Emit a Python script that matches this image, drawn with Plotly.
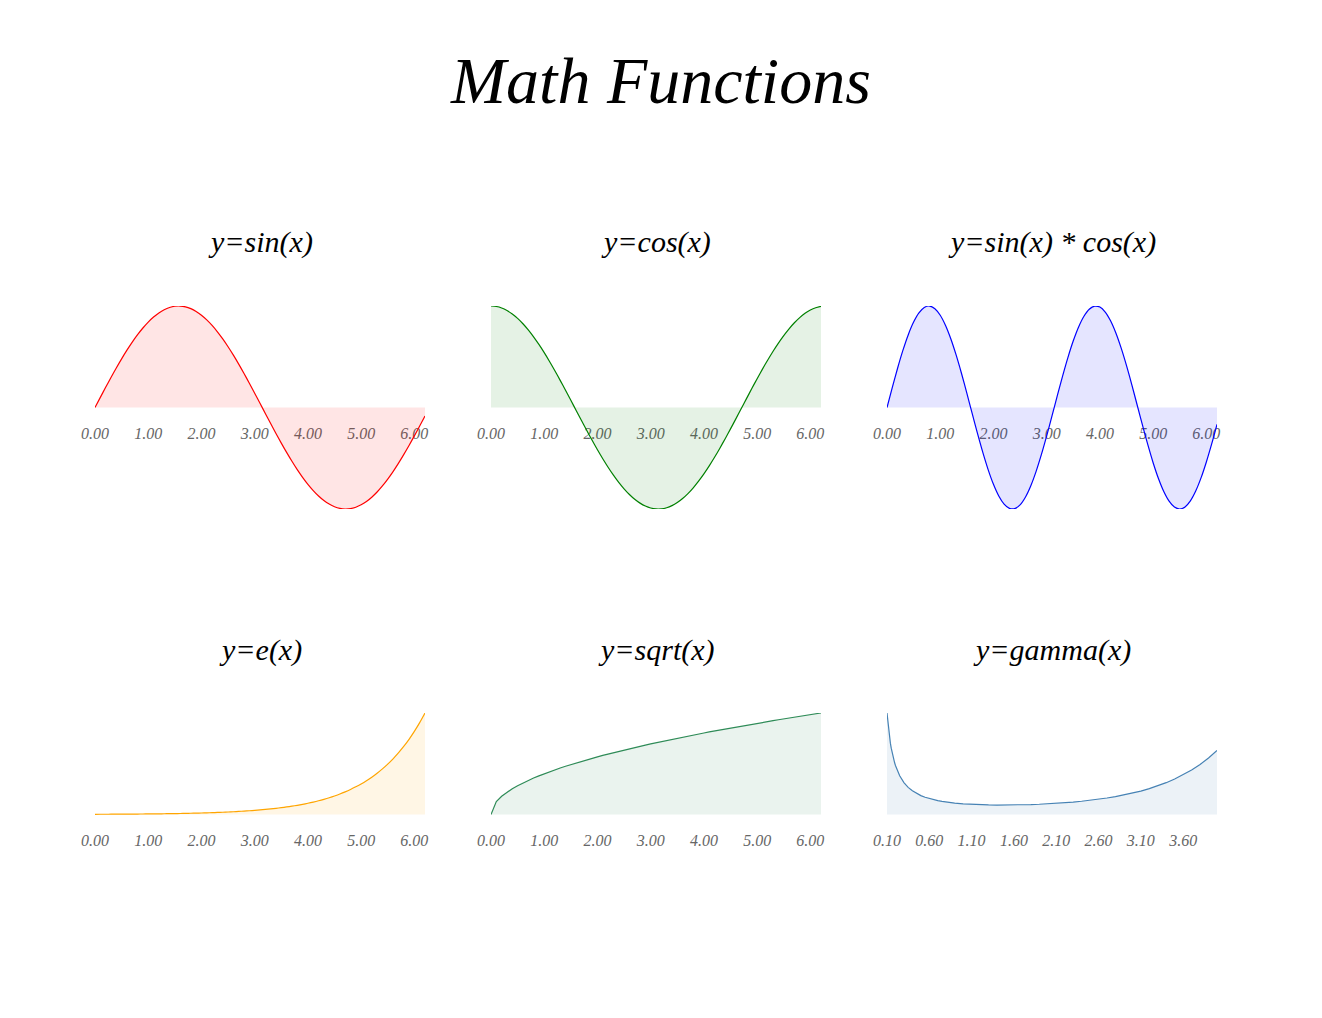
import plotly.graph_objects as go

# ---------------- data ----------------
x_main = [0.0, 0.1, 0.2, 0.3, 0.4, 0.5, 0.6, 0.7, 0.8, 0.9,
          1.0, 1.1, 1.2, 1.3, 1.4, 1.5, 1.6, 1.7, 1.8, 1.9,
          2.0, 2.1, 2.2, 2.3, 2.4, 2.5, 2.6, 2.7, 2.8, 2.9,
          3.0, 3.1, 3.2, 3.3, 3.4, 3.5, 3.6, 3.7, 3.8, 3.9,
          4.0, 4.1, 4.2, 4.3, 4.4, 4.5, 4.6, 4.7, 4.8, 4.9,
          5.0, 5.1, 5.2, 5.3, 5.4, 5.5, 5.6, 5.7, 5.8, 5.9,
          6.0, 6.1, 6.2]

y_sin = [0.0, 0.0998, 0.1987, 0.2955, 0.3894, 0.4794, 0.5646, 0.6442, 0.7174, 0.7833,
         0.8415, 0.8912, 0.9320, 0.9636, 0.9854, 0.9975, 0.9996, 0.9917, 0.9738, 0.9463,
         0.9093, 0.8632, 0.8085, 0.7457, 0.6755, 0.5985, 0.5155, 0.4274, 0.3350, 0.2392,
         0.1411, 0.0416, -0.0584, -0.1577, -0.2555, -0.3508, -0.4425, -0.5298, -0.6119, -0.6878,
         -0.7568, -0.8183, -0.8716, -0.9162, -0.9516, -0.9775, -0.9937, -0.9999, -0.9962, -0.9825,
         -0.9589, -0.9258, -0.8835, -0.8323, -0.7728, -0.7055, -0.6313, -0.5507, -0.4646, -0.3739,
         -0.2794, -0.1822, -0.0831]

y_cos = [1.0, 0.9950, 0.9801, 0.9553, 0.9211, 0.8776, 0.8253, 0.7648, 0.6967, 0.6216,
         0.5403, 0.4536, 0.3624, 0.2675, 0.1700, 0.0707, -0.0292, -0.1288, -0.2272, -0.3233,
         -0.4161, -0.5048, -0.5885, -0.6663, -0.7374, -0.8011, -0.8569, -0.9041, -0.9422, -0.9710,
         -0.9900, -0.9991, -0.9983, -0.9875, -0.9668, -0.9365, -0.8968, -0.8481, -0.7910, -0.7259,
         -0.6536, -0.5748, -0.4903, -0.4008, -0.3073, -0.2108, -0.1122, -0.0124, 0.0875, 0.1865,
         0.2837, 0.3780, 0.4685, 0.5544, 0.6347, 0.7087, 0.7756, 0.8347, 0.8855, 0.9275,
         0.9602, 0.9833, 0.9965]

y_sincos = [0.0, 0.0993, 0.1947, 0.2823, 0.3587, 0.4207, 0.4660, 0.4927, 0.4998, 0.4869,
            0.4546, 0.4043, 0.3377, 0.2578, 0.1675, 0.0706, -0.0292, -0.1278, -0.2213, -0.3059,
            -0.3784, -0.4358, -0.4758, -0.4968, -0.4981, -0.4795, -0.4418, -0.3864, -0.3157, -0.2323,
            -0.1397, -0.0416, 0.0583, 0.1557, 0.2470, 0.3285, 0.3968, 0.4493, 0.4840, 0.4993,
            0.4947, 0.4704, 0.4273, 0.3672, 0.2924, 0.2061, 0.1115, 0.0124, -0.0872, -0.1832,
            -0.2720, -0.3500, -0.4139, -0.4614, -0.4905, -0.5000, -0.4896, -0.4597, -0.4114, -0.3468,
            -0.2683, -0.1792, -0.0828]

y_exp = [1.0, 1.1052, 1.2214, 1.3499, 1.4918, 1.6487, 1.8221, 2.0138, 2.2255, 2.4596,
         2.7183, 3.0042, 3.3201, 3.6693, 4.0552, 4.4817, 4.9530, 5.4739, 6.0496, 6.6859,
         7.3891, 8.1662, 9.0250, 9.9742, 11.0232, 12.1825, 13.4637, 14.8797, 16.4446, 18.1741,
         20.0855, 22.1980, 24.5325, 27.1126, 29.9641, 33.1155, 36.5982, 40.4473, 44.7012, 49.4024,
         54.5982, 60.3403, 66.6863, 73.6998, 81.4509, 90.0171, 99.4843, 109.9472, 121.5104, 134.2898,
         148.4132, 164.0219, 181.2722, 200.3368, 221.4064, 244.6919, 270.4264, 298.8674, 330.2996, 365.0375,
         403.4288, 445.8578, 492.7490]

y_sqrt = [0.0, 0.3162, 0.4472, 0.5477, 0.6325, 0.7071, 0.7746, 0.8367, 0.8944, 0.9487,
          1.0, 1.0488, 1.0954, 1.1402, 1.1832, 1.2247, 1.2649, 1.3038, 1.3416, 1.3784,
          1.4142, 1.4491, 1.4832, 1.5166, 1.5492, 1.5811, 1.6125, 1.6432, 1.6733, 1.7029,
          1.7321, 1.7607, 1.7889, 1.8166, 1.8439, 1.8708, 1.8974, 1.9235, 1.9494, 1.9748,
          2.0, 2.0248, 2.0494, 2.0736, 2.0976, 2.1213, 2.1448, 2.1679, 2.1909, 2.2136,
          2.2361, 2.2583, 2.2804, 2.3022, 2.3238, 2.3452, 2.3664, 2.3875, 2.4083, 2.4290,
          2.4495, 2.4698, 2.4900]

x_gamma = [0.10, 0.11, 0.12, 0.13, 0.14, 0.15, 0.16, 0.17, 0.18, 0.19,
           0.20, 0.25, 0.30, 0.35, 0.40, 0.45, 0.50, 0.55, 0.60, 0.65,
           0.70, 0.75, 0.80, 0.90, 1.0,
           1.1, 1.2, 1.3, 1.4, 1.5, 1.6, 1.7, 1.8, 1.9, 2.0,
           2.1, 2.2, 2.3, 2.4, 2.5, 2.6, 2.7, 2.8, 2.9, 3.0,
           3.1, 3.2, 3.3, 3.4, 3.5, 3.6, 3.7, 3.8, 3.9, 4.0]

y_gamma = [9.5135, 8.6127, 7.8633, 7.2302, 6.6887, 6.2203, 5.8113, 5.4512, 5.1318, 4.8468,
           4.5908, 3.6256, 2.9916, 2.5461, 2.2182, 1.9681, 1.7725, 1.6161, 1.4892, 1.3848,
           1.2981, 1.2254, 1.1642, 1.0686, 1.0,
           0.9514, 0.9182, 0.8975, 0.8873, 0.8862, 0.8935, 0.9086, 0.9314, 0.9618, 1.0,
           1.0465, 1.1018, 1.1668, 1.2422, 1.3293, 1.4296, 1.5447, 1.6765, 1.8274, 2.0,
           2.1976, 2.4240, 2.6837, 2.9812, 3.3234, 3.7170, 4.1707, 4.6942, 5.2993, 6.0]

titles = ["y=sin(x)", "y=cos(x)", "y=sin(x) * cos(x)", "y=e(x)", "y=sqrt(x)", "y=gamma(x)"]
line_colors = ["red", "green", "blue", "orange", "seagreen", "steelblue"]
fill_colors = ["rgba(255,0,0,0.1)", "rgba(0,128,0,0.1)", "rgba(0,0,255,0.1)",
               "rgba(255,165,0,0.1)", "rgba(46,139,87,0.1)", "rgba(70,130,180,0.1)"]
line_shapes = ["spline", "spline", "spline", "spline", "linear", "linear"]
main_ticks = [0.0, 1.0, 2.0, 3.0, 4.0, 5.0, 6.0]
main_tick_text = ["0.00", "1.00", "2.00", "3.00", "4.00", "5.00", "6.00"]
gamma_ticks = [0.1, 0.6, 1.1, 1.6, 2.1, 2.6, 3.1, 3.6]
gamma_tick_text = ["0.10", "0.60", "1.10", "1.60", "2.10", "2.60", "3.10", "3.60"]

series = [
    (x_main, y_sin, main_ticks, main_tick_text),
    (x_main, y_cos, main_ticks, main_tick_text),
    (x_main, y_sincos, main_ticks, main_tick_text),
    (x_main, y_exp, main_ticks, main_tick_text),
    (x_main, y_sqrt, main_ticks, main_tick_text),
    (x_gamma, y_gamma, gamma_ticks, gamma_tick_text),
]

# ---------------- layout geometry ----------------
W, H = 1322, 1018
col_px = [(95, 425), (491, 821), (887, 1217)]
row_px = [(306, 509), (713, 916)]

SERIF = "Liberation Serif, Times New Roman, serif"

fig = go.Figure()
layout = dict(
    width=W, height=H,
    margin=dict(l=0, r=0, t=0, b=0, autoexpand=False),
    paper_bgcolor="white", plot_bgcolor="white",
    showlegend=False,
    font=dict(family=SERIF),
    title=dict(text="Math Functions", x=0.5, xanchor="center",
               y=1 - 80 / H, yanchor="middle",
               font=dict(family=SERIF, size=66, color="black", style="italic")),
)
annotations = []

for i, (xs, ys, tv, tt) in enumerate(series):
    r, c = divmod(i, 3)
    n = i + 1
    xa = "x" if n == 1 else f"x{n}"
    ya = "y" if n == 1 else f"y{n}"
    x0, x1 = col_px[c]
    top, bot = row_px[r]
    ydom = [1 - bot / H, 1 - top / H]
    m = max(abs(v) for v in ys)
    fig.add_trace(go.Scatter(
        x=xs, y=ys, mode="lines", xaxis=xa, yaxis=ya,
        line=dict(color=line_colors[i], width=1.2, shape=line_shapes[i], smoothing=0.8),
        fill="tozeroy", fillcolor=fill_colors[i], hoverinfo="skip",
    ))
    key = "" if n == 1 else str(n)
    layout["xaxis" + key] = dict(
        domain=[x0 / W, x1 / W], range=[xs[0], xs[-1]],
        anchor="free", position=(ydom[0] + ydom[1]) / 2,
        showgrid=False, zeroline=False, showline=False, automargin=False,
        ticks="", tickvals=tv, ticktext=tt, ticklabelstandoff=14,
        tickfont=dict(family=SERIF, size=16, color="#666666", style="italic"),
        tickangle=0, layer="below traces",
    )
    layout["yaxis" + key] = dict(
        domain=ydom, range=[-m, m], anchor=xa, automargin=False,
        showgrid=False, zeroline=False, showline=False,
        showticklabels=False, ticks="",
    )
    annotations.append(dict(
        text=titles[i], x=(x0 + x1) / 2 / W, xref="paper",
        y=1 - (242 if r == 0 else 650) / H, yref="paper",
        xanchor="center", yanchor="middle", showarrow=False,
        font=dict(family=SERIF, size=30, color="black", style="italic"),
    ))

layout["annotations"] = annotations
fig.update_layout(**layout)

fig.write_html("out.html",
               config={"displayModeBar": False},
               post_script="document.body.style.margin='0';document.body.style.overflow='hidden';")
